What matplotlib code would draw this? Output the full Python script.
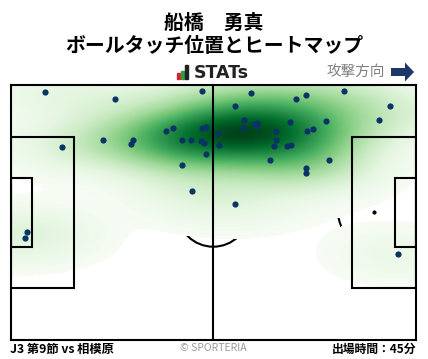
import matplotlib
matplotlib.use("Agg")
import matplotlib.pyplot as plt
import numpy as np
from matplotlib.colors import PowerNorm
from matplotlib.patches import Rectangle, Arc, Circle, FancyArrow

plt.rcParams["font.family"] = ["Noto Sans CJK JP", "DejaVu Sans"]

# ball touch positions in pitch metres (x: own goal -> attack, y: from top touchline)
touch_x = [9.0, 27.1, 49.7, 13.4, 24.0, 31.8, 31.3, 40.3, 42.2, 44.5,
           46.8, 49.7, 50.7, 49.4, 50.0, 50.7, 44.5, 47.1, 53.8, 54.1,
           62.4, 58.2, 74.0, 76.6, 86.4, 60.5, 60.3, 63.0, 63.9, 63.9,
           72.5, 68.8, 68.8, 68.3, 71.7, 72.7, 76.9, 78.2, 81.8, 67.3,
           82.6, 76.6, 76.6, 58.2, 98.3, 95.5, 4.4, 3.8, 100.4]
touch_y = [2.0, 3.9, 1.8, 16.7, 14.8, 14.7, 15.9, 12.4, 11.6, 14.8,
           14.8, 11.5, 11.2, 15.1, 15.6, 18.5, 21.5, 28.4, 12.9, 16.1,
           2.3, 5.8, 3.9, 2.8, 1.8, 9.5, 11.4, 10.6, 10.3, 10.9,
           10.0, 12.2, 14.8, 16.4, 16.4, 16.1, 12.4, 11.8, 9.8, 20.1,
           20.1, 22.2, 23.6, 31.9, 5.8, 9.4, 39.3, 40.9, 45.2]

title_name = "船橋\u3000勇真"
title_sub = "ボールタッチ位置とヒートマップ"
match_label = "J3 第9節 vs 相模原"
minutes_label = "出場時間：45分"

PITCH_L, PITCH_W = 105, 68
DOT = "#0b3466"


def kde_grid(x, y, gx, gy, sx, sy):
    """Sum of axis-aligned gaussian kernels evaluated on a grid."""
    X, Y = np.meshgrid(gx, gy)
    z = np.zeros_like(X)
    for px, py in zip(x, y):
        z += np.exp(-0.5 * (((X - px) / sx) ** 2 + ((Y - py) / sy) ** 2))
    return X, Y, z


fig = plt.figure(figsize=(4.28, 3.59), dpi=100)
ax = fig.add_axes([10.5 / 428, 19 / 359, 405.5 / 428, 255.3 / 359])
ax.set_xlim(0, PITCH_L)
ax.set_ylim(PITCH_W, 0)
ax.set_xticks([])
ax.set_yticks([])
for s in ax.spines.values():
    s.set_linewidth(1.5)
    s.set_zorder(6)

lw = 1.5
# markings underneath the heatmap
ax.add_patch(Circle((PITCH_L / 2, PITCH_W / 2), 9.15, fill=False, lw=lw, zorder=1))
for px, ang in [(11, 0), (PITCH_L - 11, 180)]:
    ax.add_patch(Arc((px, PITCH_W / 2), 18.3, 18.3, angle=ang, theta1=-53, theta2=53,
                     lw=lw, zorder=1))
    ax.plot(px, PITCH_W / 2, "o", color="black", ms=2, zorder=1)

# heatmap
gx = np.linspace(0, PITCH_L, 211)
gy = np.linspace(0, PITCH_W, 137)
X, Y, Z = kde_grid(touch_x, touch_y, gx, gy, 12.0, 5.0)
low = 0.22
ax.contourf(X, Y, Z, levels=np.linspace(low, Z.max(), 200), cmap="Greens",
            norm=PowerNorm(0.85, vmin=low, vmax=Z.max()), zorder=2)

# markings on top
ax.plot([PITCH_L / 2, PITCH_L / 2], [0, PITCH_W], color="black", lw=lw, zorder=4)
for x0, w in [(0, 16.5), (PITCH_L - 16.5, 16.5)]:
    ax.add_patch(Rectangle((x0, PITCH_W / 2 - 20.16), w, 40.32, fill=False, lw=lw, zorder=4))
for x0, w in [(0, 5.5), (PITCH_L - 5.5, 5.5)]:
    ax.add_patch(Rectangle((x0, PITCH_W / 2 - 9.16), w, 18.32, fill=False, lw=lw, zorder=4))

ax.scatter(touch_x, touch_y, s=20, color=DOT, zorder=5, linewidths=0)

# titles
fig.text(0.5, 1 - 22 / 359, title_name, ha="center", va="center",
         fontsize=14.3, fontweight="bold")
fig.text(0.5, 1 - 45 / 359, title_sub, ha="center", va="center",
         fontsize=14.3, fontweight="bold")

# STATs logo
for x0, h, c in [(177, 6, "#d7262b"), (181, 8, "#2e9c3f"), (185, 14, "#222222")]:
    fig.add_artist(Rectangle((x0 / 428, (359 - 79) / 359), 3 / 428, h / 359,
                             transform=fig.transFigure, color=c))
fig.text(194 / 428, 1 - 73 / 359, "STATs", ha="left", va="center",
         fontsize=12.5, fontweight="bold", color="#222222", family="DejaVu Sans")

# attack direction
fig.text(385 / 428, 1 - 72 / 359, "攻撃方向", ha="right", va="center",
         fontsize=10.5, color="#808080")
fig.add_artist(FancyArrow(3.91, 3.59 - 0.72, 0.14, 0, width=0.08, head_width=0.19,
                          head_length=0.09, length_includes_head=False,
                          transform=fig.dpi_scale_trans, color="#1c3768", lw=0))

# footer
fig.text(10 / 428, 1 - 349 / 359, match_label, ha="left", va="center",
         fontsize=8.8, fontweight="bold")
fig.text(213 / 428, 1 - 348 / 359, "© SPORTERIA", ha="center", va="center",
         fontsize=7.5, color="#999999")
fig.text(416 / 428, 1 - 349 / 359, minutes_label, ha="right", va="center",
         fontsize=8.5, fontweight="bold")

fig.savefig("out.png", dpi=100)
